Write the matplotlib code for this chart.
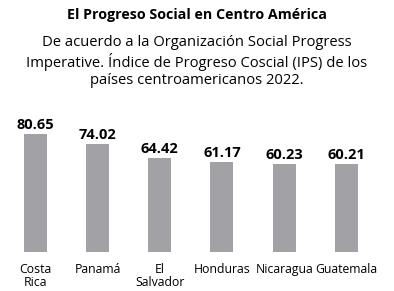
import matplotlib.pyplot as plt
import numpy as np

plt.rcParams['font.family'] = ['Open Sans', 'DejaVu Sans']

paises = ['Costa\nRica', 'Panamá', 'El\nSalvador', 'Honduras', 'Nicaragua', 'Guatemala']
ips = [80.65, 74.02, 64.42, 61.17, 60.23, 60.21]
etiquetas = ['80.65', '74.02', '64.42', '61.17', '60.23', '60.21']

fig = plt.figure(figsize=(3.94, 2.91), dpi=100)
ax = fig.add_axes([0.011, 0.134, 0.947, 0.488])

x = np.arange(len(paises))
bars = ax.bar(x, ips, width=0.37, color='#a2a2a6')
for b, t in zip(bars, etiquetas):
    ax.annotate(t, (b.get_x() + b.get_width() / 2, b.get_height()),
                xytext=(0, 1.5), textcoords='offset points',
                ha='center', va='bottom', fontsize=10.5, fontweight='bold')

ax.set_xlim(-0.5, len(paises) - 0.5)
ax.set_ylim(0, 97)
ax.set_xticks(x)
ax.set_xticklabels(paises, fontsize=8.8, linespacing=0.95)
ax.tick_params(axis='x', length=0, pad=8)
ax.set_yticks([])
for s in ax.spines.values():
    s.set_visible(False)

fig.text(0.5, 0.948, 'El Progreso Social en Centro América', ha='center', va='center',
         fontsize=10.3, fontweight='bold')
fig.text(0.5, 0.787, 'De acuerdo a la Organización Social Progress\n'
         'Imperative. Índice de Progreso Coscial (IPS) de los\n'
         'países centroamericanos 2022.', ha='center', va='center',
         fontsize=10.6, linespacing=1.2)

fig.savefig('out.png', dpi=100)
